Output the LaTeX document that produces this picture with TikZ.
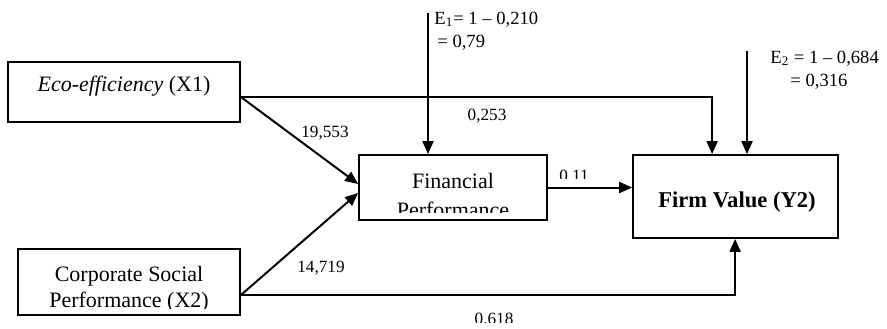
\documentclass[tikz,border=0pt]{standalone}
\usepackage{fontspec}
\setmainfont{Liberation Serif}
\usetikzlibrary{arrows.meta,calc}
\begin{document}
\begin{tikzpicture}[x=0.5pt,y=-0.5pt,
  box/.style={draw, line width=0.9pt, inner sep=0pt},
  arr/.style={line width=1pt, -{Triangle[length=6.5pt,width=5.5pt]}},
  lbl/.style={font=\fontsize{8.6}{10}\selectfont, inner sep=0pt, anchor=base},
  maintxt/.style={font=\fontsize{11}{13}\selectfont, inner sep=0pt, anchor=base},
  etxt/.style={font=\fontsize{9.3}{11}\selectfont, inner sep=0pt, anchor=base west}]
\useasboundingbox (0,0) rectangle (887,328);

% boxes
\node[box, minimum width=116pt, minimum height=30pt] (x1) at (124,92) {};
\node[box, minimum width=111pt, minimum height=33pt] (x2) at (129,282) {};
\node[box, minimum width=94pt, minimum height=32.5pt] (fp) at (453,187.5) {};
\node[box, minimum width=102.5pt, minimum height=41.5pt] (fv) at (735.5,196.5) {};

% box texts
\node[maintxt] (x1t) at (124,91) {\textit{Eco-efficiency} (X1)};
\node[maintxt] (x2t1) at (129,281) {Corporate Social};
\begin{scope}
  \clip (18,290) rectangle (240,308);
  \node[maintxt] (x2t2) at (129,307.5) {Performance (X2)};
\end{scope}
\node[maintxt] (fpt1) at (453,188) {Financial};
\begin{scope}
  \clip (359,195) rectangle (547,212);
  \node[maintxt] (fpt2) at (453,217) {Performance};
\end{scope}
\node[maintxt, font=\fontsize{11.3}{13}\selectfont\bfseries] (fvt) at (737,207) {Firm Value (Y2)};

% connectors
\draw[arr] ($(x1.east)+(0,5)$) -| ($(fv.north west)+(80,0)$);
\draw[arr] ($(x1.east)+(0,5)$) -- ($(fp.west)+(0,-3.5)$);
\draw[arr] ($(x2.east)+(0,13)$) -- ($(fp.west)+(0,5.5)$);
\draw[arr] ($(x2.east)+(0,13)$) -| ($(fv.south west)+(103,0)$);
\draw[arr] (fp.east) -- (fp.east -| fv.west);

% error terms
\coordinate (e1) at (428,13);
\coordinate (e2) at (747,51);
\draw[arr] (e1) -- (e1 |- fp.north);
\draw[arr] (e2) -- (e2 |- fv.north);
\node[etxt] (e1a) at (434,24) {E\textsubscript{1}= 1 – 0,210};
\node[etxt] (e1b) at (437,47) {= 0,79};
\node[etxt] (e2a) at (770,63) {E\textsubscript{2} = 1 – 0,684};
\node[etxt] (e2b) at (790,86) {= 0,316};

% path labels
\node[lbl] (l1) at (325,137) {19,553};
\node[lbl] (l2) at (487,120) {0,253};
\node[lbl] (l3) at (321,272) {14,719};
\begin{scope}
  \clip (540,160) rectangle (620,178);
  \node[lbl] (l4) at (574,181) {0,11};
\end{scope}
\begin{scope}
  \clip (440,300) rectangle (540,322.5);
  \node[lbl] (l5) at (494,324) {0,618};
\end{scope}
\end{tikzpicture}
\end{document}
